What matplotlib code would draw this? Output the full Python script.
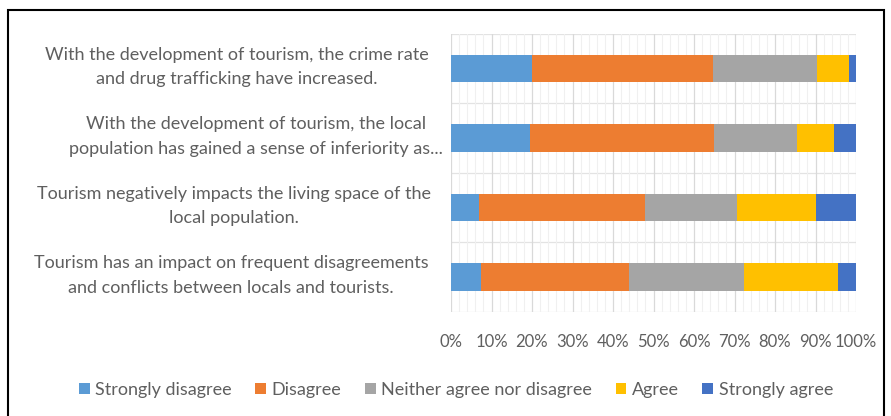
import numpy as np
import matplotlib
matplotlib.use("Agg")
import matplotlib.pyplot as plt
from matplotlib.patches import Rectangle
from matplotlib.ticker import MultipleLocator, PercentFormatter
from matplotlib.transforms import blended_transform_factory, IdentityTransform

# statements, top to bottom
statements = [
    "With the development of tourism, the crime rate\nand drug trafficking have increased.",
    "With the development of tourism, the local\npopulation has gained a sense of inferiority as...",
    "Tourism negatively impacts the living space of the\nlocal population.",
    "Tourism has an impact on frequent disagreements\nand conflicts between locals and tourists.",
]
responses = ["Strongly disagree", "Disagree", "Neither agree nor disagree", "Agree", "Strongly agree"]
strongly_disagree = [19.9, 19.5, 7.0, 7.4]
disagree = [44.7, 45.5, 41.0, 36.5]
neutral = [25.7, 20.5, 22.6, 28.4]
agree = [8.0, 9.1, 19.6, 23.2]
strongly_agree = [1.7, 5.4, 9.8, 4.5]
colors = ["#5B9BD5", "#ED7D31", "#A5A5A5", "#FFC000", "#4472C4"]

plt.rcParams['font.family'] = ['Lato', 'DejaVu Sans']
txt = "#5F5F5F"

fig = plt.figure(figsize=(8.91, 4.16), dpi=100)
ax = fig.add_axes([451 / 891, 1 - 311.75 / 416, 405 / 891, 278 / 416])

y = np.arange(len(statements))[::-1]
left = np.zeros(len(statements))
for name, vals, c in zip(responses, [strongly_disagree, disagree, neutral, agree, strongly_agree], colors):
    ax.barh(y, vals, left=left, height=0.4, color=c, label=name, zorder=3)
    left += np.array(vals)

ax.set_xlim(0, 100)
ax.set_ylim(-0.5, len(statements) - 0.5)
ax.xaxis.set_major_locator(MultipleLocator(10))
ax.xaxis.set_minor_locator(MultipleLocator(2))
ax.xaxis.set_major_formatter(PercentFormatter(decimals=0))
ax.grid(axis="x", which="major", color="#D9D9D9", lw=0.9, zorder=0)
ax.grid(axis="x", which="minor", color="#F0F0F0", lw=0.8, zorder=0)
for b in np.arange(-0.5, len(statements), 1.0):
    ax.axhline(b, color="#E3E3E3", lw=0.9, zorder=1)
for s in ax.spines.values():
    s.set_visible(False)
ax.tick_params(axis="x", which="both", length=0, pad=16, labelsize=12, labelcolor=txt)
ax.set_yticks([])

# category labels, centred text blocks left of the plot (x in pixels)
centres = [237, 256, 234, 231]
trans = blended_transform_factory(IdentityTransform(), ax.transData)
for yy, s, cx in zip(y, statements, centres):
    ax.text(cx, yy + 0.02, s, transform=trans, ha="center", va="center",
            fontsize=13, color=txt, linespacing=1.65)

fig.legend(loc="center", bbox_to_anchor=(456 / 891, 1 - 390 / 416), ncol=5, frameon=False,
           fontsize=13, labelcolor=txt, handlelength=0.6, handleheight=0.6,
           handletextpad=0.3, columnspacing=1.3)

fig.patches.append(Rectangle((8 / 891, -0.05), 876 / 891, 1.05 - 10 / 416, transform=fig.transFigure,
                             fill=False, edgecolor="black", lw=1.5))

fig.savefig("out.png", dpi=100)
